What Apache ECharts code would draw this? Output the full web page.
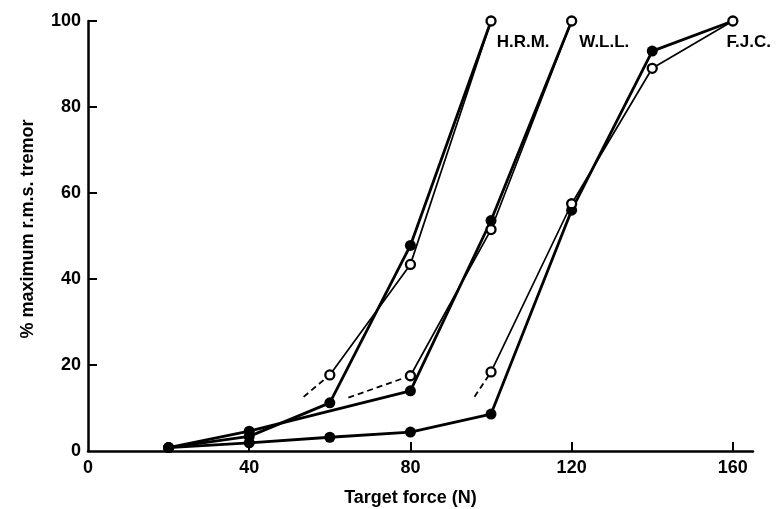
<!DOCTYPE html>
<html>
<head>
<meta charset="utf-8">
<script src="https://cdn.jsdelivr.net/npm/echarts@6/dist/echarts.min.js"></script>
<style>
html,body{margin:0;padding:0;background:#fff;}
#chart{width:776px;height:509px;}
</style>
</head>
<body>
<div id="chart"></div>
<script>
// ---- data ----
const xTickValues = [0, 40, 80, 120, 160];
const yTickValues = [0, 20, 40, 60, 80, 100];
const subjectNames = ['H.R.M.', 'W.L.L.', 'F.J.C.'];

const hrmFilledX = [20, 40, 60, 80, 100];
const hrmFilledY = [0.8, 3.4, 11.2, 47.8, 100];
const hrmOpenX = [60, 80, 100];
const hrmOpenY = [17.7, 43.4, 100];
const hrmDashX = [53.5, 60];
const hrmDashY = [12.6, 17.7];

const wllFilledX = [20, 40, 80, 100, 120];
const wllFilledY = [0.8, 4.6, 14, 53.6, 100];
const wllOpenX = [80, 100, 120];
const wllOpenY = [17.5, 51.5, 100];
const wllDashX = [64.6, 80];
const wllDashY = [12.4, 17.5];

const fjcFilledX = [20, 40, 60, 80, 100, 120, 140, 160];
const fjcFilledY = [0.8, 1.9, 3.2, 4.4, 8.6, 56, 93, 100];
const fjcOpenX = [100, 120, 140, 160];
const fjcOpenY = [18.4, 57.5, 89, 100];
const fjcDashX = [95.9, 100];
const fjcDashY = [12.6, 18.4];

// ---- build ----
function pairs(xs, ys) { return xs.map((x, i) => [x, ys[i]]); }

const FONT = '"Liberation Sans", Arial, sans-serif';

function filledSeries(xs, ys) {
  const data = pairs(xs, ys).map((p, i, arr) =>
    i === arr.length - 1 ? { value: p, symbol: 'none' } : p);
  return {
    type: 'line', data: data, symbol: 'circle', symbolSize: 11,
    lineStyle: { color: '#000', width: 2.8 },
    itemStyle: { color: '#000', borderWidth: 0 },
    z: 3, animation: false, clip: false
  };
}
function openSeries(xs, ys, name, labelOffset) {
  const data = pairs(xs, ys).map((p, i, arr) =>
    i === arr.length - 1 ? {
      value: p,
      label: {
        show: true, formatter: name, position: 'right', distance: 0,
        offset: labelOffset,
        color: '#000', fontFamily: FONT, fontWeight: 'bold', fontSize: 17
      }
    } : p);
  return {
    type: 'line', data: data, symbol: 'circle', symbolSize: 9,
    lineStyle: { color: '#000', width: 1.7 },
    itemStyle: { color: '#fff', borderColor: '#000', borderWidth: 2.3 },
    z: 4, animation: false, clip: false
  };
}
function dashSeries(xs, ys) {
  return {
    type: 'line', data: pairs(xs, ys), symbol: 'none',
    lineStyle: { color: '#000', width: 1.8, type: [6, 4] },
    z: 2, animation: false
  };
}

const chart = echarts.init(document.getElementById('chart'), null, { renderer: 'canvas' });
chart.setOption({
  backgroundColor: '#fff',
  animation: false,
  grid: { left: 88, right: 23, top: 21, bottom: 58, containLabel: false, outerBoundsMode: 'none' },
  xAxis: {
    type: 'value', min: 0, max: 165,
    name: 'Target force (N)', nameLocation: 'middle', nameGap: 38,
    nameTextStyle: { color: '#000', fontFamily: '"Liberation Sans Narrow", ' + FONT, fontWeight: 'bold', fontSize: 18, padding: [0, 20, 0, 0] },
    axisLine: { show: true, lineStyle: { color: '#000', width: 2.5 } },
    axisTick: { show: true, inside: true, length: 9, lineStyle: { color: '#000', width: 2 }, customValues: xTickValues.slice(1) },
    axisLabel: { color: '#000', fontFamily: FONT, fontWeight: 'bold', fontSize: 18, margin: 8, customValues: xTickValues },
    splitLine: { show: false }
  },
  yAxis: {
    type: 'value', min: 0, max: 100, interval: 20,
    name: '% maximum r.m.s. tremor', nameLocation: 'middle', nameGap: 51,
    nameTextStyle: { color: '#000', fontFamily: FONT, fontWeight: 'bold', fontSize: 18, padding: [0, 0, 0, 14] },
    axisLine: { show: true, lineStyle: { color: '#000', width: 2.5 } },
    axisTick: { show: true, inside: true, length: 9, lineStyle: { color: '#000', width: 2 }, customValues: yTickValues.slice(1) },
    axisLabel: { color: '#000', fontFamily: FONT, fontWeight: 'bold', fontSize: 18, margin: 7, customValues: yTickValues },
    splitLine: { show: false }
  },
  series: [
    dashSeries(hrmDashX, hrmDashY),
    dashSeries(wllDashX, wllDashY),
    dashSeries(fjcDashX, fjcDashY),
    filledSeries(hrmFilledX, hrmFilledY),
    filledSeries(wllFilledX, wllFilledY),
    filledSeries(fjcFilledX, fjcFilledY),
    openSeries(hrmOpenX, hrmOpenY, subjectNames[0], [0, 21]),
    openSeries(wllOpenX, wllOpenY, subjectNames[1], [2, 21]),
    openSeries(fjcOpenX, fjcOpenY, subjectNames[2], [-12, 21])
  ]
});
</script>
</body>
</html>
